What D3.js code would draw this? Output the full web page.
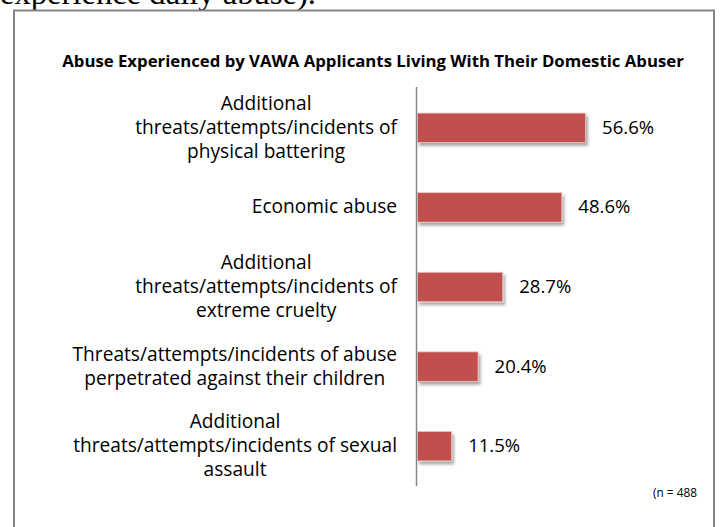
<!DOCTYPE html>
<html>
<head>
<meta charset="utf-8">
<script src="https://cdn.jsdelivr.net/npm/d3@7"></script>
<style>
  html, body { margin: 0; padding: 0; background: #fff; }
  svg { display: block; }
</style>
</head>
<body>
<svg id="chart" width="720" height="527"></svg>
<script>
const categories = [
  ["Additional", "threats/attempts/incidents of", "physical battering"],
  ["Economic abuse"],
  ["Additional", "threats/attempts/incidents of", "extreme cruelty"],
  ["Threats/attempts/incidents of abuse", "perpetrated against their children"],
  ["Additional", "threats/attempts/incidents of sexual", "assault"]
];
const values = [56.6, 48.6, 28.7, 20.4, 11.5];
const chartTitle = "Abuse Experienced by VAWA Applicants Living With Their Domestic Abuser";
const footNote = "(n = 488";
const pageText = "experience daily abuse).";

const font = "'Open Sans', Lato, sans-serif";
const svg = d3.select("#chart");

// find a font size so that a sample string has the given width
function fitSize(sample, family, weight, width) {
  const t = svg.append("text")
    .attr("font-family", family).attr("font-weight", weight)
    .attr("font-size", 100).text(sample);
  const w = t.node().getComputedTextLength();
  t.remove();
  return 100 * width / w;
}

const labelSize = fitSize("threats/attempts/incidents of", font, "normal", 262);
const valueSize = fitSize("56.6%", font, "normal", 52);
const titleSize = fitSize(chartTitle, font, "bold", 622);
const noteSize = fitSize(footNote, font, "normal", 44);
const pageSize = fitSize(pageText, "'Liberation Serif', serif", "normal", 316);

// tail of the page text above the chart
svg.append("text")
  .attr("x", 0).attr("y", 4)
  .attr("font-family", "'Liberation Serif', serif")
  .attr("font-size", pageSize)
  .attr("fill", "#000")
  .text(pageText);

// chart frame
svg.append("rect")
  .attr("x", 14).attr("y", 10.5)
  .attr("width", 700).attr("height", 530)
  .attr("fill", "#fff")
  .attr("stroke", "#858585")
  .attr("stroke-width", 2);

const defs = svg.append("defs");
const f = defs.append("filter").attr("id", "shadow")
  .attr("x", "-20%").attr("y", "-30%").attr("width", "150%").attr("height", "190%");
f.append("feDropShadow")
  .attr("dx", 2).attr("dy", 3).attr("stdDeviation", 1.8)
  .attr("flood-color", "#000").attr("flood-opacity", 0.35);

svg.append("text")
  .attr("x", 373).attr("y", 67)
  .attr("text-anchor", "middle")
  .attr("font-family", font)
  .attr("font-weight", "bold")
  .attr("font-size", titleSize)
  .text(chartTitle);

const x = d3.scaleLinear().domain([0, 60]).range([417.5, 595.7]);
const y = d3.scaleBand()
  .domain(d3.range(values.length))
  .range([88, 486])
  .paddingInner(0.63)
  .paddingOuter(0.315);

const g = svg.append("g");

g.selectAll("rect.bar")
  .data(values)
  .join("rect")
  .attr("class", "bar")
  .attr("x", x(0))
  .attr("y", (d, i) => y(i))
  .attr("width", d => x(d) - x(0))
  .attr("height", y.bandwidth())
  .attr("fill", "#c0504d")
  .attr("stroke", "#e8c4c3")
  .attr("stroke-width", 0.8)
  .attr("filter", "url(#shadow)");

g.selectAll("text.val")
  .data(values)
  .join("text")
  .attr("class", "val")
  .attr("x", d => x(d) + 16.5)
  .attr("y", (d, i) => y(i) + y.bandwidth() / 2 + 6)
  .attr("font-family", font)
  .attr("font-size", valueSize)
  .attr("fill", "#000")
  .text(d => d.toFixed(1) + "%");

// axis line
svg.append("line")
  .attr("x1", 416.5).attr("x2", 416.5)
  .attr("y1", 87).attr("y2", 486)
  .attr("stroke", "#868686")
  .attr("stroke-width", 1.5);

// category labels: each block centered, right edge at 397
const lineH = 24;
categories.forEach((lines, i) => {
  const cy = y(i) + y.bandwidth() / 2;
  const t = svg.append("text")
    .attr("font-family", font)
    .attr("font-size", labelSize)
    .attr("fill", "#000")
    .attr("text-anchor", "middle");
  lines.forEach((ln, k) => {
    t.append("tspan")
      .attr("y", cy + 6 + (k - (lines.length - 1) / 2) * lineH)
      .text(ln);
  });
  let maxW = 0;
  t.selectAll("tspan").each(function () {
    maxW = Math.max(maxW, this.getComputedTextLength());
  });
  t.selectAll("tspan").attr("x", 397 - maxW / 2);
});

svg.append("text")
  .attr("x", 697).attr("y", 497)
  .attr("text-anchor", "end")
  .attr("font-family", font)
  .attr("font-size", noteSize)
  .text(footNote);
</script>
</body>
</html>
